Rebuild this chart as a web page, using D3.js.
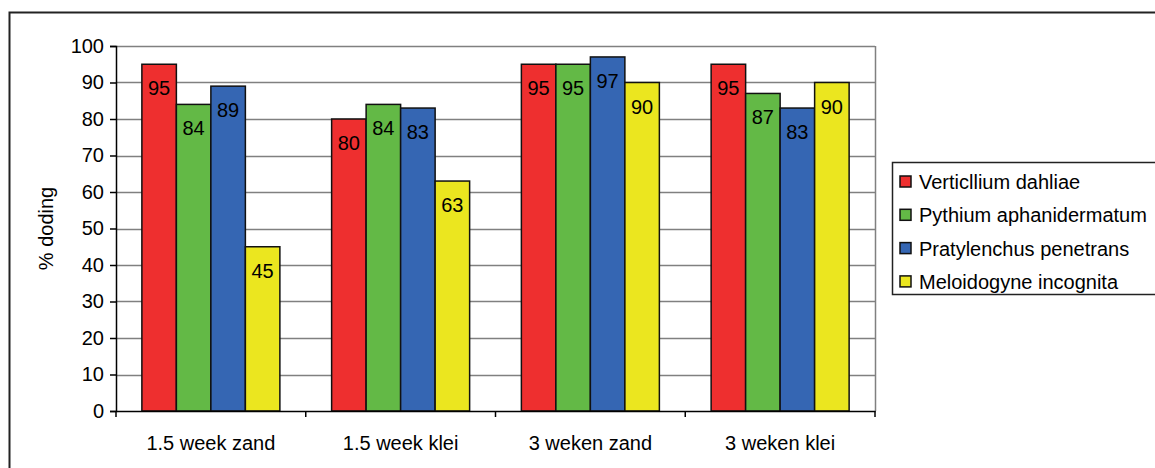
<!DOCTYPE html>
<html>
<head>
<meta charset="utf-8">
<script src="https://cdn.jsdelivr.net/npm/d3@7"></script>
<style>
  body { margin: 0; background: #fff; }
  text { font-family: Arial, 'Liberation Sans', sans-serif; }
</style>
</head>
<body>
<div id="chart"></div>
<script>
const categories = ['1.5 week zand', '1.5 week klei', '3 weken zand', '3 weken klei']
const seriesNames = ['Verticllium dahliae', 'Pythium aphanidermatum', 'Pratylenchus penetrans', 'Meloidogyne incognita']
const verticillium = [95, 80, 95, 95]
const pythium = [84, 84, 95, 87]
const pratylenchus = [89, 83, 97, 83]
const meloidogyne = [45, 63, 90, 90]
const yTicks = [0, 10, 20, 30, 40, 50, 60, 70, 80, 90, 100]
const colors = ['#ee2f2f', '#63b946', '#3566b3', '#ebe61f']

const values = [verticillium, pythium, pratylenchus, meloidogyne]

const margin = { top: 46, left: 116, right: 280, bottom: 57 }
const width = 1155 - margin.left - margin.right
const height = 468 - margin.top - margin.bottom
const fontSize = 20

const root = d3
  .select('#chart')
  .append('svg')
  .attr('width', 1155)
  .attr('height', 468)

// outer frame
root
  .append('rect')
  .attr('x', 9.5)
  .attr('y', 12.5)
  .attr('width', 1160)
  .attr('height', 480)
  .attr('fill', 'none')
  .attr('stroke', '#222')
  .attr('stroke-width', 2)

const svg = root
  .append('g')
  .attr('transform', 'translate(' + margin.left + ',' + margin.top + ')')

const xPositionScale = d3
  .scaleBand()
  .domain(categories)
  .range([0, width])
  .paddingInner(0)

const yPositionScale = d3
  .scaleLinear()
  .domain([0, 100])
  .range([height, 0])

// bar width = group / 5.5 (gap 150%)
const barWidth = xPositionScale.bandwidth() / 5.5
const groupOffset = barWidth * 0.75

// gridlines
svg
  .selectAll('.grid')
  .data(yTicks.slice(1))
  .enter()
  .append('line')
  .attr('x1', 0)
  .attr('x2', width)
  .attr('y1', d => Math.round(yPositionScale(d)) + 0.5)
  .attr('y2', d => Math.round(yPositionScale(d)) + 0.5)
  .attr('stroke', '#808080')
  .attr('stroke-width', 1.5)

// right border of plot area
svg
  .append('line')
  .attr('x1', width + 0.5)
  .attr('x2', width + 0.5)
  .attr('y1', 0)
  .attr('y2', height)
  .attr('stroke', '#808080')
  .attr('stroke-width', 1.5)

const groups = svg
  .selectAll('.group')
  .data(categories)
  .enter()
  .append('g')
  .attr('class', 'group')
  .attr('transform', d => 'translate(' + xPositionScale(d) + ',0)')

groups.each(function(cat, ci) {
  const g = d3.select(this)
  values.forEach((series, si) => {
    const v = series[ci]
    const x = groupOffset + si * barWidth
    g.append('rect')
      .attr('x', x)
      .attr('y', yPositionScale(v))
      .attr('width', barWidth)
      .attr('height', height - yPositionScale(v))
      .attr('fill', colors[si])
      .attr('stroke', '#111')
      .attr('stroke-width', 1.5)
    g.append('text')
      .attr('x', x + barWidth / 2)
      .attr('y', yPositionScale(v) + 31)
      .attr('text-anchor', 'middle')
      .attr('font-size', fontSize)
      .attr('fill', '#000')
      .text(v)
  })
})

const yAxis = d3
  .axisLeft(yPositionScale)
  .tickValues(yTicks)
  .tickSize(6)
  .tickPadding(6)
svg
  .append('g')
  .attr('class', 'axis y-axis')
  .call(yAxis)
  .call(g => g.selectAll('text').attr('font-size', fontSize).attr('fill', '#000'))
  .call(g => g.selectAll('line,path').attr('stroke', '#000').attr('stroke-width', 1.5))

const xAxis = d3
  .axisBottom(xPositionScale)
  .tickSize(0)
  .tickPadding(25)
svg
  .append('g')
  .attr('class', 'axis x-axis')
  .attr('transform', 'translate(0,' + height + ')')
  .call(xAxis)
  .call(g => g.selectAll('text').attr('font-size', fontSize).attr('fill', '#000'))
  .call(g => g.select('.domain').attr('stroke', '#000').attr('stroke-width', 1.5))

// category separator ticks
svg
  .selectAll('.sep')
  .data(categories.concat(['end']))
  .enter()
  .append('line')
  .attr('x1', (d, i) => i < categories.length ? xPositionScale(d) : width)
  .attr('x2', (d, i) => i < categories.length ? xPositionScale(d) : width)
  .attr('y1', height)
  .attr('y2', height + 6)
  .attr('stroke', '#000')
  .attr('stroke-width', 1.5)

// y title
svg
  .append('text')
  .attr('transform', 'translate(' + (-63) + ',' + (height / 2) + ') rotate(-90)')
  .attr('text-anchor', 'middle')
  .attr('font-size', fontSize)
  .attr('fill', '#000')
  .text('% doding')

// legend
const legend = root.append('g').attr('transform', 'translate(892,162)')
legend
  .append('rect')
  .attr('x', 0.5)
  .attr('y', 0.5)
  .attr('width', 270)
  .attr('height', 132)
  .attr('fill', '#fff')
  .attr('stroke', '#222')
  .attr('stroke-width', 1.5)

const items = legend
  .selectAll('.item')
  .data(seriesNames)
  .enter()
  .append('g')
  .attr('class', 'item')
  .attr('transform', (d, i) => 'translate(0,' + (20 + i * 33.3) + ')')

items
  .append('rect')
  .attr('x', 8)
  .attr('y', -6)
  .attr('width', 11)
  .attr('height', 11)
  .attr('fill', (d, i) => colors[i])
  .attr('stroke', '#111')
  .attr('stroke-width', 1.5)

items
  .append('text')
  .attr('x', 27)
  .attr('y', 0)
  .attr('dy', '0.35em')
  .attr('font-size', fontSize)
  .attr('fill', '#000')
  .text(d => d)
</script>
</body>
</html>
